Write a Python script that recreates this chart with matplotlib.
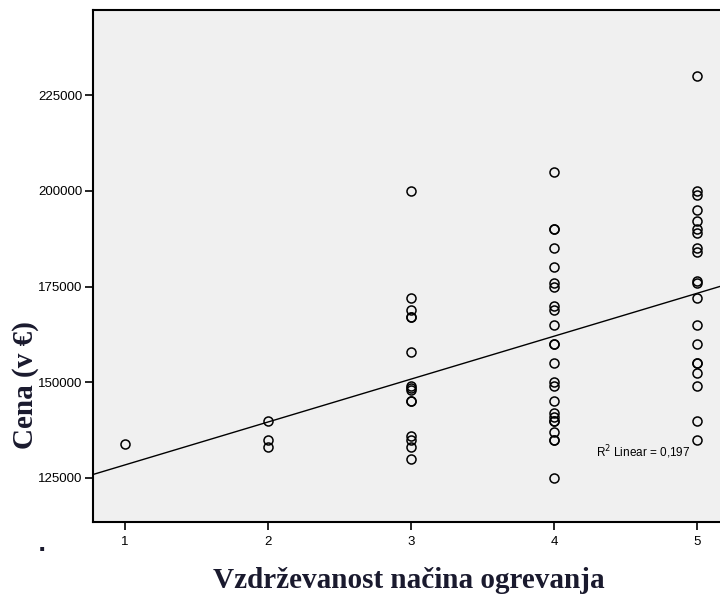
import numpy as np
import matplotlib
matplotlib.use("Agg")
import matplotlib.pyplot as plt

# ocena vzdrzevanosti nacina ogrevanja (1-5) in cena stanovanja
x1 = [1]
cena1 = [134000]
x2 = [2, 2, 2]
cena2 = [140000, 135000, 133000]
cena3 = [200000, 172000, 169000, 167000, 167000, 158000, 149000, 148500,
         148000, 145000, 145000, 136000, 135000, 133000, 130000]
cena4 = [205000, 190000, 190000, 185000, 180000, 176000, 175000, 170000,
         169000, 165000, 160000, 160000, 155000, 150000, 149000, 145000,
         142000, 141000, 140000, 140000, 137000, 135000, 135000, 125000]
cena5 = [230000, 200000, 199000, 195000, 192000, 190000, 189000, 185000,
         184000, 176500, 176000, 172000, 165000, 160000, 155000, 155000,
         152500, 149000, 140000, 135000]

x = np.array(x1 + x2 + [3] * len(cena3) + [4] * len(cena4) + [5] * len(cena5), dtype=float)
y = np.array(cena1 + cena2 + cena3 + cena4 + cena5, dtype=float)

r2_label = "0,197"
xticks = [1, 2, 3, 4, 5]
yticks = [125000, 150000, 175000, 200000, 225000]

fig = plt.figure(figsize=(7.2, 5.97), dpi=100)
ax = fig.add_axes([0.129, 0.1256, 0.875, 0.8574])
ax.set_facecolor("#f0f0f0")

ax.plot(x, y, "o", mfc="none", mec="black", ms=6.5, mew=1.1, zorder=3)

# linearna regresija
k, n = np.polyfit(x, y, 1)
xl = np.array([0.7, 5.3])
ax.plot(xl, k * xl + n, color="black", lw=1.0, zorder=2)

ax.set_xlim(0.776, 5.18)
ax.set_ylim(113500, 247200)
ax.set_xticks(xticks)
ax.set_yticks(yticks)
ax.set_xticklabels([str(t) for t in xticks], fontsize=9.5, family="Liberation Sans")
ax.set_yticklabels([str(t) for t in yticks], fontsize=9.5, family="Liberation Sans")
ax.tick_params(direction="out", length=6, width=1.2, color="black")
ax.tick_params(axis="y", pad=1.5)
ax.tick_params(axis="x", pad=4)
for s in ax.spines.values():
    s.set_linewidth(1.5)

ax.text(4.29, 131800, "R$^2$ Linear = " + r2_label, fontsize=8.5,
        family="Liberation Sans", va="center", ha="left")

fig.text(0.568, 0.028, "Vzdrževanost načina ogrevanja", fontsize=21,
         family="Liberation Serif", weight="bold", color="#1a1a2e",
         ha="center", va="center")
fig.text(0.036, 0.355, "Cena (v €)", fontsize=21, family="Liberation Serif",
         weight="bold", color="#1a1a2e", rotation=90, ha="center", va="center")
fig.text(0.058, 0.087, ".", fontsize=16, weight="bold", color="#1a1a2e",
         ha="center", va="center")

fig.savefig("out.png", dpi=100)
